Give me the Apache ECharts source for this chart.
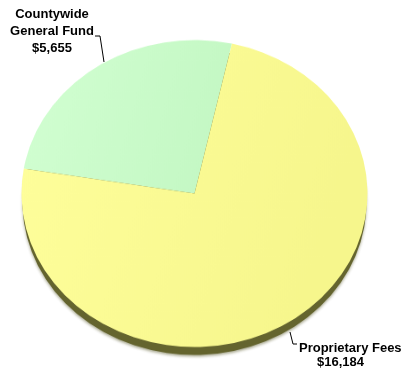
<!DOCTYPE html>
<html>
<head>
<meta charset="utf-8">
<script src="https://cdn.jsdelivr.net/npm/echarts@6/dist/echarts.min.js"></script>
<style>
html,body{margin:0;padding:0;background:#fff;}
#wrap{position:relative;width:406px;height:372px;overflow:hidden;}
#pie{position:absolute;left:0;top:0;width:406px;height:430px;transform-origin:0 193.5px;transform:scaleY(0.887);}
#lab{position:absolute;left:0;top:0;width:406px;height:372px;}
</style>
</head>
<body>
<div id="wrap"><div id="pie"></div><div id="lab"></div></div>
<script>
const categories = ['Countywide General Fund', 'Proprietary Fees'];
const labelLines = [['Countywide', 'General Fund'], ['Proprietary Fees']];
const values = [5655, 16184];
const faceColors = [['#D2FFD2', '#C4F8C4'], ['#FFFF9C', '#F6F68C']];

function money(v) { return '$' + String(v).replace(/\B(?=(\d{3})+(?!\d))/g, ','); }

const pieData = categories.map((c, i) => ({
  name: c, value: values[i],
  itemStyle: { color: new echarts.graphic.LinearGradient(0, 0, 1, 0.3, [
    { offset: 0, color: faceColors[i][0] }, { offset: 1, color: faceColors[i][1] }]) }
}));
const shadowData = categories.map((c, i) => ({ name: c, value: values[i] }));

const pie = echarts.init(document.getElementById('pie'), null, { renderer: 'canvas' });
pie.setOption({
  animation: false,
  series: [
    {
      type: 'pie', silent: true, z: 1,
      center: [194.5, 203.5], radius: 172,
      startAngle: 77.5, clockwise: false,
      label: { show: false }, labelLine: { show: false },
      itemStyle: { color: '#64642E', borderWidth: 0, shadowBlur: 3, shadowColor: 'rgba(80,80,30,0.45)', shadowOffsetY: 2 },
      data: shadowData
    },
    {
      type: 'pie', silent: true, z: 2,
      center: [194.5, 193.5], radius: 173,
      startAngle: 77.5, clockwise: false,
      label: { show: false }, labelLine: { show: false },
      itemStyle: { borderWidth: 0 },
      data: pieData
    }
  ]
});

const font = 'bold 13px "Liberation Sans", Arial, sans-serif';
const lab = echarts.init(document.getElementById('lab'), null, { renderer: 'canvas' });
lab.setOption({
  animation: false,
  graphic: [
    { type: 'text', style: { text: labelLines[0].concat([money(values[0])]).join('\n'), x: 52, y: 31, textAlign: 'center', textVerticalAlign: 'middle', font: font, lineHeight: 17, fill: '#000' } },
    { type: 'polyline', shape: { points: [[95, 36], [100, 36], [104, 62]] }, style: { stroke: '#000', lineWidth: 1, fill: null } },
    { type: 'text', style: { text: labelLines[1][0], x: 299, y: 348, textAlign: 'left', textVerticalAlign: 'middle', font: font, fill: '#000' } },
    { type: 'text', style: { text: money(values[1]), x: 340.5, y: 362, textAlign: 'center', textVerticalAlign: 'middle', font: font, fill: '#000' } },
    { type: 'polyline', shape: { points: [[290, 332], [293, 344], [297, 344]] }, style: { stroke: '#000', lineWidth: 1, fill: null } }
  ]
});
</script>
</body>
</html>
